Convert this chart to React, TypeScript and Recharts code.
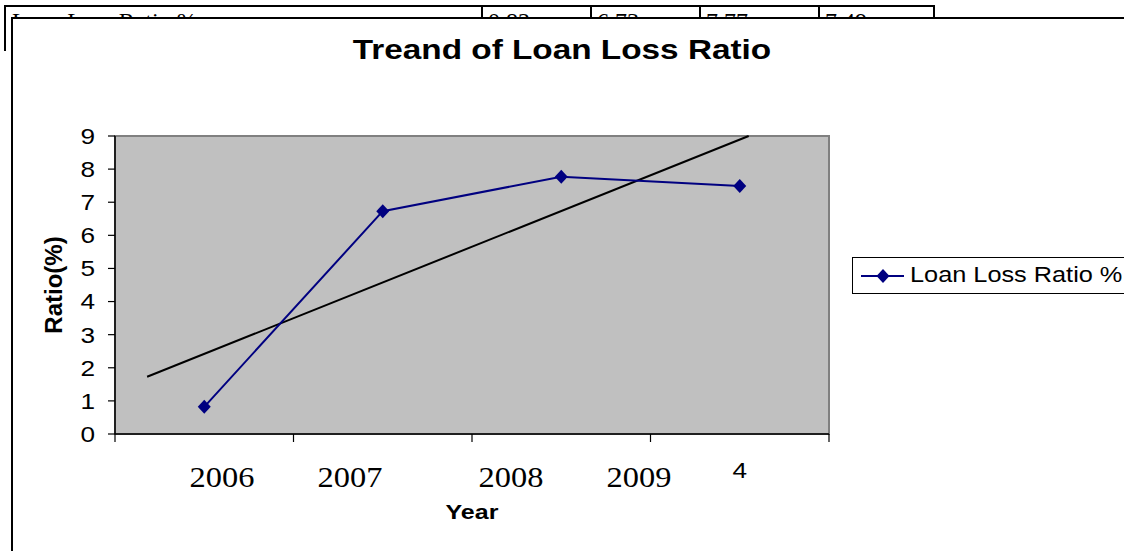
import { LineChart, Line, XAxis, YAxis, ReferenceArea } from "recharts";

const CATEGORIES = [1, 2, 3, 4];
const LOSS_RATIO = [0.82, 6.73, 7.77, 7.49];
const CATEGORY_TICK_LABELS = ["", "", "", "4"];
const YEAR_LABELS = ["2006", "2007", "2008", "2009"];
const Y_TICKS = [0, 1, 2, 3, 4, 5, 6, 7, 8, 9];
// trendline ends (x in category units)
const TREND_X = [0.68, 4.05];
const TREND_Y = [1.73, 9.0];
const TABLE_ROW = ["Loan Loss Ratio %", "0.82", "6.73", "7.77", "7.49"];

const NAVY = "#000080";
const SANS = "'Liberation Sans', Arial, sans-serif";
const SERIF = "'Liberation Serif', 'Times New Roman', serif";

const lossData = CATEGORIES.map((c, i) => ({ x: c, ratio: LOSS_RATIO[i] }));
const trendData = TREND_X.map((x, i) => ({ x, trend: TREND_Y[i] }));
const bandEdges = [...CATEGORIES.map((c) => c - 0.5), CATEGORIES[CATEGORIES.length - 1] + 0.5];
const xDomain = [bandEdges[0], bandEdges[bandEdges.length - 1]];

function Diamond(props: any) {
  const { cx, cy } = props;
  if (cx == null || cy == null) return null;
  return (
    <path
      d={`M${cx},${cy - 7}L${cx + 6.5},${cy}L${cx},${cy + 7}L${cx - 6.5},${cy}Z`}
      fill={NAVY}
    />
  );
}

function YTick({ x, y, payload }: any) {
  return (
    <text
      transform={`translate(${x},${y}) scale(1.19,1)`}
      textAnchor="end"
      dy="0.36em"
      fontSize={22}
      fontFamily={SANS}
      fill="#000"
    >
      {payload.value}
    </text>
  );
}

function CatTick({ x, y, payload }: any) {
  const label = CATEGORY_TICK_LABELS[CATEGORIES.indexOf(payload.value)];
  return (
    <text
      transform={`translate(${x},${y}) scale(1.19,1)`}
      textAnchor="middle"
      dy={36}
      fontSize={22}
      fontFamily={SANS}
      fill="#000"
    >
      {label}
    </text>
  );
}

function NoLabel() {
  return <g />;
}

const tableCells = [
  { left: 4, width: 477 },
  { left: 481, width: 109 },
  { left: 590, width: 109 },
  { left: 699, width: 119 },
  { left: 818, width: 117 },
];

const yearCenters = [222, 350, 511, 639];

export default function App() {
  return (
    <div
      style={{
        position: "absolute",
        left: 0,
        top: 0,
        width: 1124,
        height: 551,
        overflow: "hidden",
        background: "#fff",
      }}
    >
      {/* table row peeking out above the chart */}
      {tableCells.map((c, i) => (
        <div
          key={i}
          style={{
            position: "absolute",
            left: c.left,
            top: 5,
            width: c.width,
            height: 46,
            borderTop: "2px solid #000",
            borderLeft: "2px solid #000",
            borderRight: i === tableCells.length - 1 ? "2px solid #000" : "none",
            boxSizing: "border-box",
            fontFamily: SERIF,
            fontSize: 24,
            lineHeight: "24px",
            paddingLeft: i === 0 ? 6 : 5,
            paddingTop: 2,
            whiteSpace: "nowrap",
          }}
        >
          {TABLE_ROW[i]}
        </div>
      ))}

      {/* chart frame */}
      <div
        style={{
          position: "absolute",
          left: 11,
          top: 17,
          width: 1300,
          height: 700,
          border: "2px solid #000",
          background: "#fff",
        }}
      />

      <div
        style={{
          position: "absolute",
          left: 0,
          top: 36,
          width: 1124,
          textAlign: "center",
          fontFamily: SANS,
          fontWeight: "bold",
          fontSize: 28,
          lineHeight: "28px",
          transform: "scaleX(1.19)",
        }}
      >
        Treand of Loan Loss Ratio
      </div>

      <div style={{ position: "absolute", left: 0, top: 0 }}>
        <LineChart
          width={1124}
          height={551}
          margin={{ top: 136, right: 295, left: 0, bottom: 49 }}
        >
          <ReferenceArea
            xAxisId="edges"
            x1={xDomain[0]}
            x2={xDomain[1]}
            y1={0}
            y2={9}
            fill="#c0c0c0"
            fillOpacity={1}
            stroke="#808080"
            strokeWidth={2}
          />
          <XAxis
            xAxisId="edges"
            dataKey="x"
            type="number"
            domain={xDomain}
            ticks={bandEdges}
            tick={<NoLabel />}
            tickSize={8}
            height={8}
            axisLine={{ stroke: "#000", strokeWidth: 1.5 }}
            tickLine={{ stroke: "#000", strokeWidth: 1.2 }}
          />
          <XAxis
            xAxisId="labels"
            dataKey="x"
            type="number"
            domain={xDomain}
            ticks={CATEGORIES}
            tick={<CatTick />}
            tickSize={0}
            tickMargin={0}
            height={60}
            axisLine={false}
            tickLine={false}
          />
          <YAxis
            type="number"
            domain={[0, 9]}
            ticks={Y_TICKS}
            width={115}
            tickSize={7}
            tickMargin={13}
            tick={<YTick />}
            axisLine={{ stroke: "#000", strokeWidth: 1.5 }}
            tickLine={{ stroke: "#000", strokeWidth: 1.2 }}
          />
          <Line
            xAxisId="labels"
            data={trendData}
            dataKey="trend"
            stroke="#000"
            strokeWidth={2}
            dot={false}
            legendType="none"
            isAnimationActive={false}
          />
          <Line
            xAxisId="edges"
            data={lossData}
            dataKey="ratio"
            name="Loan Loss Ratio %"
            stroke={NAVY}
            strokeWidth={2}
            dot={<Diamond />}
            activeDot={false}
            isAnimationActive={false}
          />
        </LineChart>
      </div>

      {/* overlaid year text boxes */}
      {YEAR_LABELS.map((yr, i) => (
        <div
          key={yr}
          style={{
            position: "absolute",
            left: yearCenters[i] - 50,
            top: 462,
            width: 100,
            textAlign: "center",
            fontFamily: SERIF,
            fontSize: 30,
            lineHeight: "30px",
            transform: "scaleX(1.08)",
          }}
        >
          {yr}
        </div>
      ))}

      <div
        style={{
          position: "absolute",
          left: 372,
          top: 501,
          width: 200,
          textAlign: "center",
          fontFamily: SANS,
          fontWeight: "bold",
          fontSize: 21,
          lineHeight: "21px",
          transform: "scaleX(1.19)",
        }}
      >
        Year
      </div>

      <div
        style={{
          position: "absolute",
          left: 54,
          top: 285,
          transform: "translate(-50%,-50%) rotate(-90deg)",
          fontFamily: SANS,
          fontWeight: "bold",
          fontSize: 24,
          lineHeight: "24px",
          whiteSpace: "nowrap",
        }}
      >
        Ratio(%)
      </div>

      {/* legend */}
      <div
        style={{
          position: "absolute",
          left: 852,
          top: 257,
          width: 320,
          height: 37,
          border: "1px solid #000",
          boxSizing: "border-box",
          background: "#fff",
        }}
      >
        <svg width={50} height={35} style={{ position: "absolute", left: 8, top: 0 }}>
          <line x1={0} y1={18} x2={43} y2={18} stroke={NAVY} strokeWidth={2} />
          <Diamond cx={22} cy={18} />
        </svg>
        <div
          style={{
            position: "absolute",
            left: 57,
            top: 6,
            fontFamily: SANS,
            fontSize: 22,
            lineHeight: "22px",
            whiteSpace: "nowrap",
            transform: "scaleX(1.15)",
            transformOrigin: "left center",
          }}
        >
          Loan Loss Ratio %
        </div>
      </div>
    </div>
  );
}
